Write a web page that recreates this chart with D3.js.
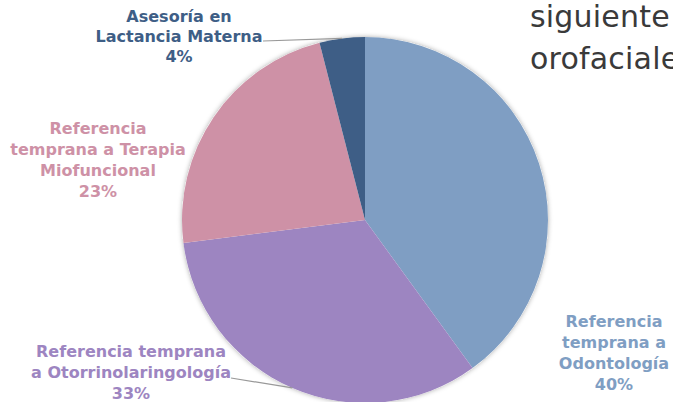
<!DOCTYPE html>
<html><head><meta charset="utf-8">
<script src="https://cdn.jsdelivr.net/npm/d3@7"></script>
<style>body{margin:0;background:#fff;overflow:hidden}svg{display:block}</style>
</head><body>
<script>
const categories = ["Referencia temprana a Odontología","Referencia temprana a Otorrinolaringología","Referencia temprana a Terapia Miofuncional","Asesoría en Lactancia Materna"];
const values = [40,33,23,4];
const labelLines = [
  ["Referencia","temprana a","Odontología","40%"],
  ["Referencia temprana","a Otorrinolaringología","33%"],
  ["Referencia","temprana a Terapia","Miofuncional","23%"],
  ["Asesoría en","Lactancia Materna","4%"]
];
const colors = ["#7F9EC3","#9D85C1","#CE91A6","#3E5E86"];
const labelColors = ["#7F9EC3","#9D85C1","#CE91A6","#3E5E86"];
const titleLines = ["siguiente","orofaciale"];

const W=673,H=402, cx=365, cy=220, R=183;
const svg=d3.select("body").append("svg").attr("width",W).attr("height",H);
const defs=svg.append("defs");
const f=defs.append("filter").attr("id","sh").attr("x","-20%").attr("y","-20%").attr("width","140%").attr("height","140%");
f.append("feDropShadow").attr("dx",0).attr("dy",0).attr("stdDeviation",2.5).attr("flood-color","#000").attr("flood-opacity",0.35);

svg.append("g").selectAll("text").data(titleLines).join("text")
  .attr("x",530).attr("y",(d,i)=>27+i*42)
  .attr("font-family","'DejaVu Sans', sans-serif").attr("font-size",30).attr("letter-spacing",0.2).attr("fill","#3a3a3a")
  .text(d=>d);

const pie=d3.pie().sort(null).value(d=>d)(values);
const arc=d3.arc().innerRadius(0).outerRadius(R);
const g=svg.append("g").attr("transform",`translate(${cx},${cy})`);
g.append("circle").attr("r",R).attr("fill","#fff").attr("filter","url(#sh)");
g.selectAll("path").data(pie).join("path").attr("d",arc).attr("fill",(d,i)=>colors[i]);

const labelPos=[[614,327],[131,357],[98,134],[179,22]];
const lh=21;
const lg=svg.append("g").attr("font-family","'DejaVu Sans', sans-serif").attr("font-weight","bold").attr("font-size",16).attr("text-anchor","middle");
labelLines.forEach((lines,i)=>{
  const t=lg.append("text").attr("fill",labelColors[i]);
  lines.forEach((s,j)=>t.append("tspan").attr("x",labelPos[i][0]).attr("y",labelPos[i][1]+j*(i===3?20:lh)).text(s));
});
function edge(i){const a=(pie[i].startAngle+pie[i].endAngle)/2;return [cx+R*Math.sin(a),cy-R*Math.cos(a)];}
const leaders=[[3,[263,41]],[1,[231,378]]];
leaders.forEach(([i,p])=>{const e=edge(i);
  svg.append("line").attr("x1",p[0]).attr("y1",p[1]).attr("x2",e[0]).attr("y2",e[1]).attr("stroke","#999").attr("stroke-width",1.2);});
</script>
</body></html>
